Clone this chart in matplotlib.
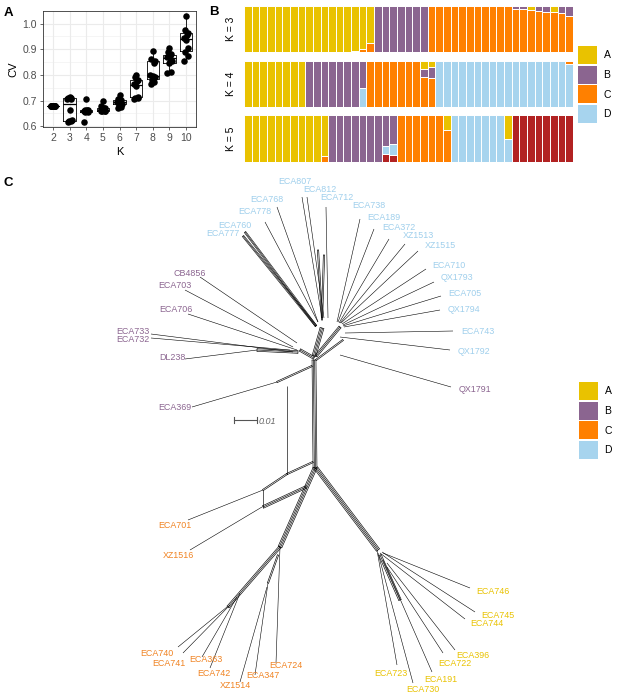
import numpy as np
import matplotlib
matplotlib.use("Agg")
import matplotlib.pyplot as plt
from matplotlib.patches import Rectangle

plt.rcParams['font.family'] = ['Liberation Sans', 'DejaVu Sans']

# ---------------- panel A data: cross-validation error per K ----------------
k_values = [2, 3, 4, 5, 6, 7, 8, 9, 10]
cv_runs = [
    [0.678, 0.679, 0.680, 0.678, 0.679, 0.680, 0.679, 0.678, 0.680, 0.679],
    [0.618, 0.620, 0.621, 0.623, 0.665, 0.705, 0.708, 0.710, 0.711, 0.712],
    [0.615, 0.657, 0.657, 0.658, 0.659, 0.661, 0.662, 0.662, 0.663, 0.705],
    [0.658, 0.659, 0.660, 0.661, 0.664, 0.666, 0.671, 0.672, 0.680, 0.700],
    [0.672, 0.676, 0.684, 0.687, 0.692, 0.694, 0.699, 0.702, 0.708, 0.720],
    [0.708, 0.710, 0.711, 0.715, 0.755, 0.765, 0.778, 0.782, 0.790, 0.798],
    [0.765, 0.772, 0.780, 0.792, 0.794, 0.798, 0.845, 0.855, 0.862, 0.892],
    [0.808, 0.812, 0.845, 0.855, 0.864, 0.869, 0.876, 0.880, 0.888, 0.905],
    [0.855, 0.872, 0.888, 0.905, 0.935, 0.945, 0.955, 0.965, 0.975, 1.030],
]
jitter = [-0.12, 0.10, -0.05, 0.13, 0.02, -0.14, 0.06, 0.11, -0.09, 0.0]

# ---------------- panel B data: ancestry proportions (43 strains) ----------------
k3_A = [1] * 14 + [0.97, 0.93, 0.80] + [0] * 7 + [0] * 13 + [0.09, 0, 0, 0.14, 0, 0]
k3_B = [0] * 17 + [1] * 7 + [0] * 10 + [0.01, 0.06, 0.06, 0, 0.10, 0.13, 0, 0.16, 0.21]
k4_A = [1] * 8 + [0] * 15 + [0.17, 0.13] + [0] * 18
k4_B = [0] * 8 + [1] * 7 + [0.58] + [0] * 7 + [0.18, 0.25] + [0] * 18
k4_D = [0] * 15 + [0.42] + [0] * 9 + [1] * 17 + [0.93]
k5_A = [1] * 10 + [0.88] + [0] * 15 + [0.32] + [0] * 7 + [0.5] + [0] * 8
k5_B = [0] * 11 + [1] * 7 + [0.65, 0.61] + [0] * 23
k5_D = [0] * 18 + [0.17, 0.25] + [0] * 7 + [1] * 7 + [0.5] + [0] * 8
k5_E = [0] * 18 + [0.18, 0.14] + [0] * 15 + [1] * 8

col_A, col_B, col_C, col_D, col_E = '#E9C200', '#8B6590', '#FF8000', '#A7D4EE', '#B22222'
legend_labels = ['A', 'B', 'C', 'D']

# ---------------- panel C data: split network ----------------
leaf_names = ['ECA807', 'ECA812', 'ECA712', 'ECA768', 'ECA778', 'ECA760', 'ECA777',
              'ECA738', 'ECA189', 'ECA372', 'XZ1513', 'XZ1515', 'ECA710', 'QX1793',
              'ECA705', 'QX1794', 'ECA743', 'QX1792',
              'QX1791', 'CB4856', 'ECA703', 'ECA706', 'ECA733', 'ECA732', 'DL238', 'ECA369',
              'ECA701', 'XZ1516', 'ECA740', 'ECA741', 'ECA363', 'ECA742', 'XZ1514', 'ECA347', 'ECA724',
              'ECA746', 'ECA745', 'ECA744', 'ECA396', 'ECA722', 'ECA191', 'ECA730', 'ECA723']
leaf_group = ['D'] * 18 + ['B'] * 8 + ['C'] * 9 + ['A'] * 8
label_x = [295, 320, 337, 267, 255, 235, 223,
           369, 384, 399, 418, 440, 449, 457, 465, 464, 478, 474,
           475, 190, 175, 176, 133, 133, 172, 175,
           175, 178, 157, 169, 206, 214, 235, 263, 286,
           493, 498, 487, 473, 455, 441, 423, 391]
label_y = [181, 189, 197, 199, 212, 225, 234,
           206, 217, 227, 236, 246, 265, 278, 293, 309, 332, 351,
           389, 273, 286, 310, 331, 339, 358, 407,
           526, 556, 653, 663, 660, 673, 685, 676, 666,
           592, 615, 624, 655, 663, 679, 689, 673]
tip_x = [302, 307, 326, 277, 265, 245, 243,
         360, 374, 389, 405, 418, 426, 434, 441, 440, 453, 450,
         451, 200, 185, 188, 151, 151, 185, 192,
         188, 190, 178, 183, 202, 210, 240, 255, 276,
         470, 475, 465, 455, 443, 432, 413, 397]
tip_y = [197, 197, 207, 207, 222, 232, 236,
         219, 229, 239, 244, 251, 269, 282, 296, 310, 331, 350,
         387, 277, 290, 314, 334, 338, 359, 407,
         520, 550, 647, 653, 657, 668, 682, 675, 663,
         588, 612, 619, 650, 653, 672, 683, 665]
hub_x = [322, 324, 328, 318, 318, 316, 316,
         337, 338, 339, 340, 341, 342, 343, 343, 344, 345, 340,
         340, 297, 293, 297, 293, 290, 257, 277,
         263, 262, 227, 230, 237, 240, 267, 268, 280,
         383, 382, 380, 387, 387, 383, 378, 377]
hub_y = [318, 318, 318, 322, 322, 326, 326,
         322, 322, 323, 323, 323, 324, 325, 326, 327, 333, 337,
         355, 343, 347, 350, 352, 350, 350, 382,
         490, 507, 607, 605, 597, 593, 587, 583, 547,
         553, 552, 553, 563, 567, 560, 553, 550]
leaf_lines = [1, 1, 1, 1, 1, 3, 3] + [1] * 36
# internal edges: x0, y0, x1, y1, number of parallel splits
edge_x0 = [314, 314, 314, 316, 315, 280, 316, 277, 287, 287, 263, 263, 263, 268, 380, 257, 318, 322, 316]
edge_y0 = [360, 358, 356, 356, 468, 547, 468, 382, 386, 474, 490, 490, 507, 583, 555, 350, 250, 320, 360]
edge_x1 = [315, 300, 322, 340, 280, 228, 378, 312, 287, 313, 287, 263, 306, 278, 400, 298, 322, 324, 343]
edge_y1 = [468, 350, 328, 327, 547, 607, 550, 366, 474, 462, 474, 507, 487, 555, 600, 352, 318, 255, 340]
edge_n = [4, 3, 4, 3, 4, 3, 4, 2, 1, 2, 2, 1, 3, 2, 3, 3, 2, 2, 2]

group_col = {'A': '#E9C200', 'B': '#8B6590', 'C': '#F08322', 'D': '#9FCFEC'}

W, H = 617, 698
fig = plt.figure(figsize=(W / 100, H / 100), dpi=100)


def fx(px):
    return px / W


def fy(py):
    return 1 - py / H


# ---------------- panel A ----------------
axA = fig.add_axes([fx(43), fy(127), fx(196) - fx(43), fy(11) - fy(127)])
axA.set_xlim(1.4, 10.6)
axA.set_ylim(0.597, 1.049)
for v in np.arange(0.65, 1.05, 0.1):
    axA.axhline(v, color='#F2F2F2', lw=0.5, zorder=0)
for v in np.arange(0.6, 1.05, 0.1):
    axA.axhline(v, color='#EBEBEB', lw=0.8, zorder=0)
for k in k_values:
    axA.axvline(k, color='#EBEBEB', lw=0.8, zorder=0)
axA.boxplot(cv_runs, positions=k_values, widths=0.75, showfliers=False, whis=1.5,
            patch_artist=False, manage_ticks=False,
            boxprops=dict(lw=0.6, color='black'), whiskerprops=dict(lw=0.6, color='black'),
            capprops=dict(lw=0), medianprops=dict(lw=0.9, color='black'))
for k, runs in zip(k_values, cv_runs):
    axA.scatter([k + j for j in jitter], runs, s=22, color='black', zorder=3, lw=0)
axA.set_xticks(k_values)
axA.set_xticklabels([str(k) for k in k_values])
axA.set_yticks([0.6, 0.7, 0.8, 0.9, 1.0])
axA.set_yticklabels(['0.6', '0.7', '0.8', '0.9', '1.0'])
axA.tick_params(labelsize=7.5, colors='#4D4D4D', length=2.5, width=0.6, pad=2)
for s in axA.spines.values():
    s.set_color('#333333')
    s.set_linewidth(0.6)
axA.set_xlabel('K', fontsize=8, labelpad=3)
axA.set_ylabel('CV', fontsize=8, labelpad=3)

# ---------------- panel B ----------------
rows = [
    ('K = 3', 6, 52, [(None, col_C), (k3_B, col_B), (k3_A, col_A)], [k3_A, k3_B]),
    ('K = 4', 61, 107, [(k4_D, col_D), (None, col_C), (k4_B, col_B), (k4_A, col_A)], [k4_A, k4_B, k4_D]),
    ('K = 5', 115, 162, [(k5_E, col_E), (k5_D, col_D), (None, col_C), (k5_B, col_B), (k5_A, col_A)],
     [k5_A, k5_B, k5_D, k5_E]),
]
for name, top, bot, layers, others in rows:
    ax = fig.add_axes([fx(244), fy(bot), fx(573) - fx(244), fy(top) - fy(bot)])
    n = len(k3_A)
    x = np.arange(n)
    rest = 1 - np.sum(np.array(others, dtype=float), axis=0)
    base = np.zeros(n)
    for vals, col in layers:
        v = rest if vals is None else np.array(vals, dtype=float)
        ax.bar(x, v, bottom=base, width=1.0, color=col, edgecolor='white', lw=0.7)
        base = base + v
    ax.set_xlim(-0.5, n - 0.5)
    ax.set_ylim(0, 1)
    ax.axis('off')
    fig.text(fx(231), fy((top + bot) / 2), name, rotation=90, ha='center', va='center', fontsize=7.5)

# ---------------- panel C: network drawn in pixel space ----------------
axC = fig.add_axes([0, 0, 1, 1], zorder=-1)
axC.set_xlim(0, W)
axC.set_ylim(H, 0)
axC.axis('off')


def bundle(x0, y0, x1, y1, n, gap=1.3, lw=0.45):
    d = np.array([x1 - x0, y1 - y0], dtype=float)
    p = np.array([-d[1], d[0]]) / (np.hypot(*d) + 1e-9)
    for i in range(n):
        o = (i - (n - 1) / 2) * gap
        axC.plot([x0 + p[0] * o, x1 + p[0] * o], [y0 + p[1] * o, y1 + p[1] * o],
                 color='black', lw=lw, solid_capstyle='butt')
    if n > 1:
        for (xa, ya) in [(x0, y0), (x1, y1)]:
            o = (n - 1) / 2 * gap
            axC.plot([xa - p[0] * o, xa + p[0] * o], [ya - p[1] * o, ya + p[1] * o],
                     color='black', lw=lw)


for a, b, c, d, n in zip(edge_x0, edge_y0, edge_x1, edge_y1, edge_n):
    bundle(a, b, c, d, n)
for i, nm in enumerate(leaf_names):
    bundle(hub_x[i], hub_y[i], tip_x[i], tip_y[i], leaf_lines[i], gap=0.9, lw=0.4)
    g = leaf_group[i]
    if nm == 'QX1791':
        g = 'B'
    axC.text(label_x[i], label_y[i], nm, color=group_col[g], fontsize=6.4, ha='center', va='center')

# scale bar
axC.plot([234, 257], [420, 420], color='#555555', lw=0.8)
axC.plot([234, 234], [417, 423], color='#555555', lw=0.8)
axC.plot([257, 257], [417, 423], color='#555555', lw=0.8)
axC.text(259, 421, '0.01', fontsize=6.5, style='italic', color='#666666', ha='left', va='center')

# legends
for (lx, ly0) in [(578, 46), (579, 382)]:
    for j, (lab, col) in enumerate(zip(legend_labels, [col_A, col_B, col_C, col_D])):
        yy = ly0 + j * 19.5
        axC.add_patch(Rectangle((lx, yy), 18.5, 18, color=col, lw=0))
        axC.text(lx + 29, yy + 9.5, lab, fontsize=7.5, ha='center', va='center')

# panel letters
fig.text(fx(4), fy(13), 'A', fontsize=9.5, fontweight='bold', va='center')
fig.text(fx(209), fy(12), 'B', fontsize=9.5, fontweight='bold', va='center')
fig.text(fx(4), fy(183), 'C', fontsize=9.5, fontweight='bold', va='center')

fig.savefig('out.png', dpi=100)
